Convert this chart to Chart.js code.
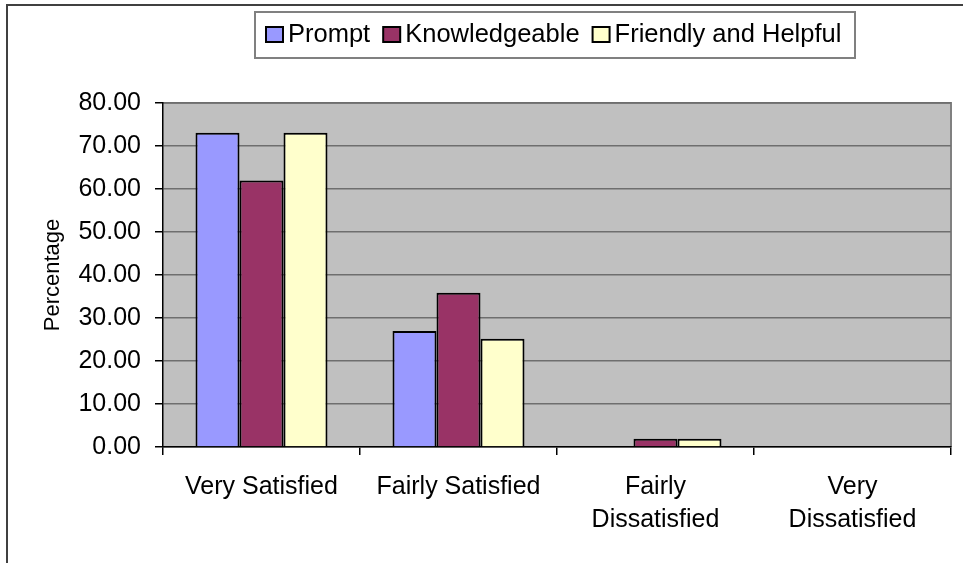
<!DOCTYPE html>
<html>
<head>
<meta charset="utf-8">
<script src="https://cdn.jsdelivr.net/npm/chart.js@4.4.1/dist/chart.umd.min.js"></script>
<style>
  html, body { margin: 0; padding: 0; background: #fff; }
  canvas { display: block; }
</style>
</head>
<body>
<canvas id="chart" width="963" height="563"></canvas>
<script>
const categories = ['Very Satisfied', 'Fairly Satisfied', ['Fairly', 'Dissatisfied'], ['Very', 'Dissatisfied']];
const seriesNames = ['Prompt', 'Knowledgeable', 'Friendly and Helpful'];
const prompt = [73.1, 27.0, 0, 0];
const knowledgeable = [62.0, 35.9, 1.9, 0];
const friendly = [73.1, 25.2, 1.9, 0];
const seriesColors = ['#9999FF', '#993366', '#FFFFCC'];

const FONT = '"Liberation Sans", Arial, sans-serif';

// grey plot area, frame lines
const backdrop = {
    id: 'backdrop',
    beforeDraw(chart) {
        const c = chart.ctx, a = chart.chartArea;
        c.save();
        c.fillStyle = '#fff';
        c.fillRect(0, 0, chart.width, chart.height);
        c.fillStyle = '#C0C0C0';
        c.fillRect(a.left, a.top, a.right - a.left, a.bottom - a.top);
        c.strokeStyle = '#808080';
        c.lineWidth = 2;
        c.beginPath();
        c.moveTo(a.left, a.top);
        c.lineTo(a.right, a.top);
        c.lineTo(a.right, a.bottom);
        c.stroke();
        // outer chart border (left and top only visible)
        c.strokeStyle = '#404040';
        c.lineWidth = 2;
        c.beginPath();
        c.moveTo(7, chart.height);
        c.lineTo(7, 5);
        c.lineTo(chart.width, 5);
        c.stroke();
        c.restore();
    }
};

// Excel style boxed legend
const boxLegend = {
    id: 'boxLegend',
    afterDraw(chart) {
        const c = chart.ctx;
        c.save();
        c.strokeStyle = '#808080';
        c.lineWidth = 2;
        c.strokeRect(255, 12, 600, 46);
        c.font = '25.5px ' + FONT;
        c.textBaseline = 'alphabetic';
        let x = 266;
        chart.data.datasets.forEach(ds => {
            c.fillStyle = ds.backgroundColor;
            c.fillRect(x, 27, 17, 15);
            c.strokeStyle = '#000';
            c.lineWidth = 2;
            c.strokeRect(x, 27, 17, 15);
            c.fillStyle = '#000';
            c.fillText(ds.label, x + 22, 42);
            x += 22 + c.measureText(ds.label).width + 13;
        });
        c.restore();
    }
};

const values = [prompt, knowledgeable, friendly];

new Chart(document.getElementById('chart'), {
    type: 'bar',
    data: {
        labels: categories,
        datasets: seriesNames.map((name, i) => ({
            label: name,
            data: values[i],
            backgroundColor: seriesColors[i],
            borderColor: '#000',
            borderWidth: 2,
            barPercentage: 1,
            categoryPercentage: 0.67
        }))
    },
    options: {
        responsive: false,
        animation: false,
        layout: { padding: { top: 103, left: 0, right: 12, bottom: 0 } },
        plugins: {
            legend: { display: false },
            tooltip: { enabled: false }
        },
        scales: {
            x: {
                offset: true,
                afterFit(scale) { scale.height = 116; },
                grid: { drawOnChartArea: false, tickLength: 8, tickColor: '#000', lineWidth: 1.5, offset: true },
                border: { color: '#000', width: 1.5 },
                ticks: { color: '#000', font: { family: FONT, size: 25, lineHeight: 1.3 }, padding: 16, maxRotation: 0, autoSkip: false }
            },
            y: {
                min: 0,
                max: 80,
                afterFit(scale) { scale.width = 163; },
                ticks: {
                    stepSize: 10,
                    color: '#000',
                    padding: 14,
                    font: { family: FONT, size: 25 },
                    callback: v => v.toFixed(2)
                },
                grid: { color: '#6e6e6e', lineWidth: 1.5, tickLength: 8, tickColor: '#000' },
                border: { color: '#000', width: 1.5 },
                title: {
                    display: true,
                    text: 'Percentage',
                    color: '#000',
                    font: { family: FONT, size: 22 },
                    padding: { top: 40, bottom: 0 }
                }
            }
        }
    },
    plugins: [backdrop, boxLegend]
});
</script>
</body>
</html>
